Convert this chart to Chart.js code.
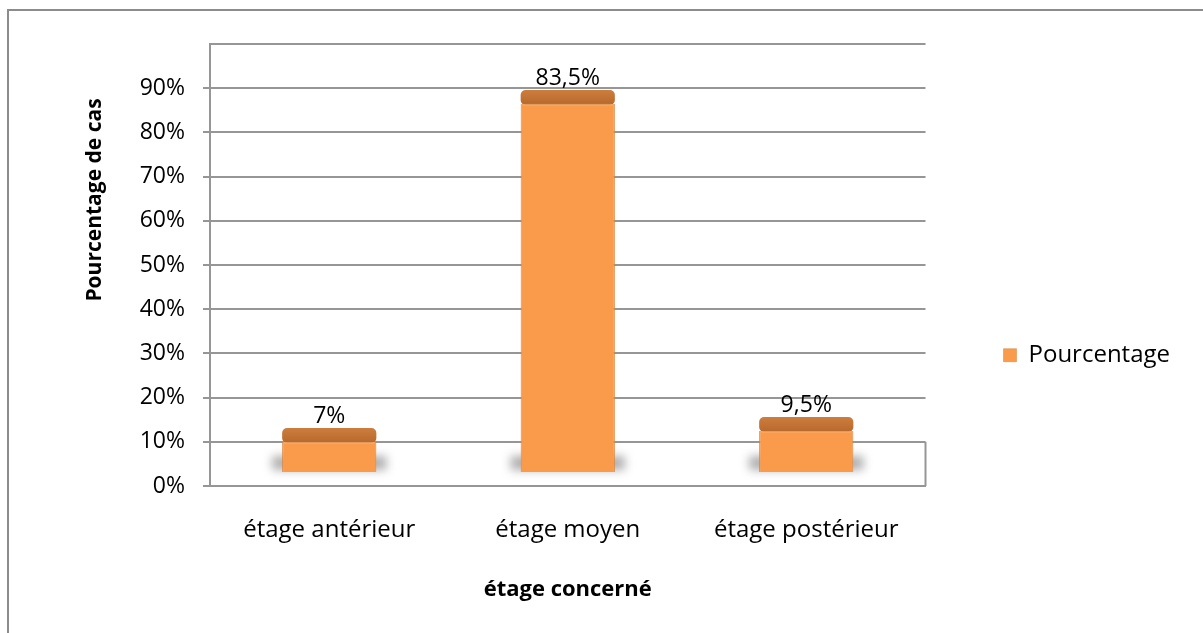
<!DOCTYPE html>
<html lang="fr">
<head>
<meta charset="utf-8">
<title>Étage concerné</title>
<script src="https://cdn.jsdelivr.net/npm/chart.js@4.4.1/dist/chart.umd.min.js"></script>
<style>
  html, body { margin: 0; padding: 0; background: #fff; overflow: hidden; }
  #frame { position: absolute; left: 7px; top: 9px; width: 1200px; height: 640px;
           border: 2px solid #8c8c8c; border-bottom: none; }
  #chart { display: block; }
</style>
</head>
<body>
<div id="frame"><canvas id="chart" width="1194" height="622"></canvas></div>
<script>
// Data
const categories = ['étage antérieur', 'étage moyen', 'étage postérieur'];
const values = [7, 83.5, 9.5];
const seriesName = 'Pourcentage';
const yTickLabels = ['0%', '10%', '20%', '30%', '40%', '50%', '60%', '70%', '80%', '90%'];
const xTitle = 'étage concerné';
const yTitle = 'Pourcentage de cas';

const FONT = '"Open Sans", "Noto Sans", sans-serif';
const GRID = '#969696';
const DEPTH = 13;   // 3D floor offset
const CAP = 14;     // height of the darker top face

const fmt = v => String(v).replace('.', ',') + '%';

// fake 3D look: shadow at the base, bars lifted off the floor, darker top face
const bar3d = {
  id: 'bar3d',
  beforeDatasetsDraw(chart) {
    const ctx = chart.ctx;
    const area = chart.chartArea;
    const y = chart.scales.y;
    // right edge of the floor
    ctx.save();
    ctx.strokeStyle = GRID;
    ctx.lineWidth = 2;
    ctx.beginPath();
    ctx.moveTo(area.right, y.getPixelForValue(10));
    ctx.lineTo(area.right, area.bottom);
    ctx.stroke();
    ctx.restore();

    ctx.save();
    ctx.filter = 'blur(5px)';
    ctx.fillStyle = 'rgba(120,120,120,0.6)';
    chart.getDatasetMeta(0).data.forEach(bar => {
      ctx.fillRect(bar.x - bar.width / 2 - 10, bar.base - DEPTH - 16, bar.width + 20, 14);
    });
    ctx.restore();
  },
  beforeDatasetDraw(chart) {
    chart.ctx.save();
    chart.ctx.translate(0, -DEPTH);
  },
  afterDatasetDraw(chart, args) {
    const ctx = chart.ctx;
    args.meta.data.forEach(bar => {
      const l = bar.x - bar.width / 2;
      const g = ctx.createLinearGradient(0, bar.y - CAP, 0, bar.y);
      g.addColorStop(0, '#cd7e3e');
      g.addColorStop(1, '#b86a2d');
      ctx.fillStyle = g;
      ctx.beginPath();
      ctx.roundRect(l, bar.y - CAP, bar.width, CAP + 1, 5);
      ctx.fill();
      ctx.fillStyle = 'rgba(255,190,130,0.6)';
      ctx.fillRect(l + 2, bar.y, bar.width - 4, 1.5);
    });
    ctx.restore();
  },
  afterDatasetsDraw(chart) {
    const ctx = chart.ctx;
    const area = chart.chartArea;
    ctx.save();
    ctx.fillStyle = '#000';
    ctx.font = '23px ' + FONT;
    ctx.textAlign = 'center';
    ctx.textBaseline = 'alphabetic';
    chart.getDatasetMeta(0).data.forEach((bar, i) => {
      ctx.fillText(fmt(values[i]), bar.x, bar.y - DEPTH - CAP - 5);
    });
    // y axis title, placed like the original (above centre)
    ctx.translate(area.left - 115, area.top + 156);
    ctx.rotate(-Math.PI / 2);
    ctx.font = 'bold 21px ' + FONT;
    ctx.textBaseline = 'middle';
    ctx.fillText(yTitle, 0, 0);
    ctx.restore();
  }
};

new Chart(document.getElementById('chart'), {
  type: 'bar',
  data: {
    labels: categories,
    datasets: [{
      label: seriesName,
      data: values,
      backgroundColor: '#f99b4b',
      borderColor: '#d9843b',
      borderWidth: { left: 1, right: 1, top: 0, bottom: 0 },
      categoryPercentage: 1,
      barPercentage: 0.395
    }]
  },
  options: {
    responsive: false,
    animation: false,
    layout: { padding: { top: 33, left: 0, right: 23, bottom: 0 } },
    plugins: {
      tooltip: { enabled: false },
      legend: {
        position: 'right',
        title: { display: true, text: '', padding: { top: 0, bottom: 19 } },
        labels: {
          padding: 78,
          boxWidth: 13,
          boxHeight: 13,
          color: '#000',
          font: { family: FONT, size: 24 }
        }
      }
    },
    scales: {
      x: {
        grid: { display: false },
        border: { display: true, color: GRID, width: 2 },
        ticks: { color: '#000', padding: 22, font: { family: FONT, size: 24 } },
        title: {
          display: true, text: xTitle, color: '#000',
          font: { family: FONT, size: 22, weight: 'bold' },
          padding: { top: 0, bottom: 30 }
        },
        afterFit(scale) { scale.height = 147; }
      },
      y: {
        min: 0,
        max: 100,
        grid: {
          color: GRID,
          lineWidth: 2,
          tickLength: 7,
          tickColor: c => (c.tick && c.tick.value === 100 ? 'rgba(0,0,0,0)' : GRID)
        },
        border: { display: true, color: GRID, width: 2 },
        ticks: {
          stepSize: 10,
          padding: 18,
          color: '#000',
          font: { family: FONT, size: 23 },
          callback: (v, i) => yTickLabels[i] ?? ''
        },
        afterFit(scale) { scale.width = 201; }
      }
    }
  },
  plugins: [bar3d]
});
</script>
</body>
</html>
